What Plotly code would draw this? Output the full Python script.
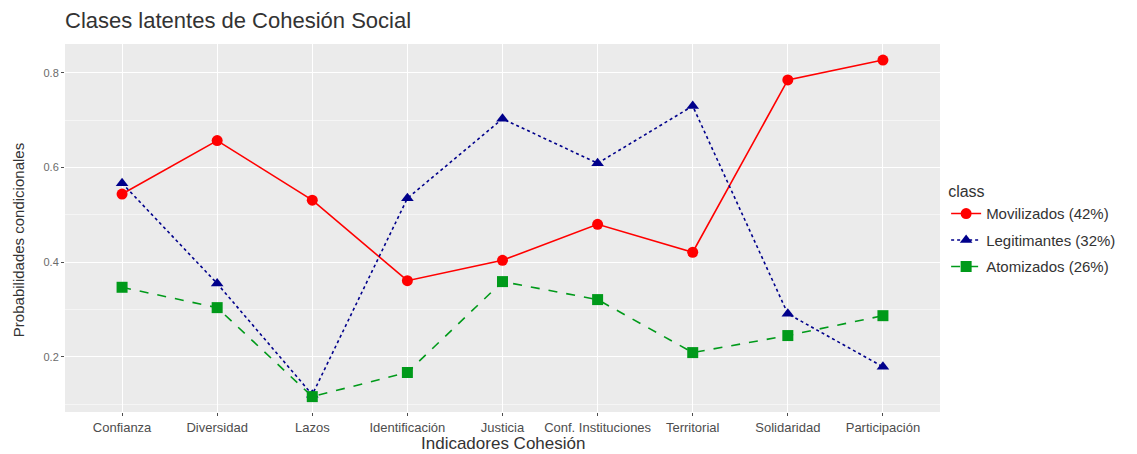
import plotly.graph_objects as go

# indicators on the x axis
indicadores = ["Confianza", "Diversidad", "Lazos", "Identificación", "Justicia",
               "Conf. Instituciones", "Territorial", "Solidaridad", "Participación"]

# conditional probabilities per latent class
movilizados = [0.544, 0.657, 0.531, 0.361, 0.404, 0.480, 0.421, 0.785, 0.827]
legitimantes = [0.567, 0.355, 0.120, 0.535, 0.703, 0.609, 0.730, 0.291, 0.179]
atomizados = [0.347, 0.304, 0.116, 0.167, 0.359, 0.321, 0.209, 0.245, 0.287]

clases = ["Movilizados (42%)", "Legitimantes (32%)", "Atomizados (26%)"]

y_ticks = [0.2, 0.4, 0.6, 0.8]

FONT = "Liberation Sans, Arial, sans-serif"

# page body has an 8px margin, so the figure sits 8px in from the window corner
W, H = 1129, 446
L, R, T, B = 57, 197, 36, 42


def add_class(fig, name, values, color, dash, symbol):
    '''
        Adds one latent class as a line with markers.
    '''
    fig.add_trace(go.Scatter(x=indicadores, y=values, name=name,
                             legendgroup=name,
                             mode='lines+markers',
                             line=dict(color=color, width=1.6, dash=dash),
                             marker=dict(color=color, size=11, symbol=symbol)))
    return fig


fig = go.Figure()
fig = add_class(fig, clases[0], movilizados, '#ff0000', 'solid', 'circle')
fig = add_class(fig, clases[1], legitimantes, '#00008b', 'dot', 'triangle-up')
fig = add_class(fig, clases[2], atomizados, '#009a1a', 'dash', 'square')

plot_w = W - L - R
plot_h = H - T - B

fig.update_layout(
    width=W, height=H,
    margin=dict(l=L, r=R, t=T, b=B),
    paper_bgcolor='white',
    plot_bgcolor='#ebebeb',
    font=dict(family=FONT, color='#4d4d4d', size=12),
    title=dict(text="Clases latentes de Cohesión Social",
               x=L / W, xanchor='left', y=1 - 12 / H, yanchor='middle',
               font=dict(size=22, color='#333333')),
    xaxis=dict(automargin=False,
               showgrid=True, gridcolor='white', gridwidth=1.2,
               ticks='outside', ticklen=3, tickcolor='#4d4d4d',
               range=[-0.6, len(indicadores) - 0.4],
               tickfont=dict(size=13, color='#4d4d4d'),
               zeroline=False),
    yaxis=dict(automargin=False,
               range=[0.0835, 0.861], tickmode='array', tickvals=y_ticks,
               ticktext=[str(v) for v in y_ticks],
               showgrid=True, gridcolor='white', gridwidth=1.2,
               minor=dict(tickmode='array', tickvals=[0.1, 0.3, 0.5, 0.7],
                          showgrid=True, gridcolor='#f5f5f5', gridwidth=0.6),
               ticks='outside', ticklen=3, tickcolor='#4d4d4d',
               tickfont=dict(size=11, color='#6b6b6b'),
               zeroline=False),
    legend=dict(title=dict(text="class", font=dict(size=16, color='#333333')),
                x=1.007, xanchor='left', y=0.64, yanchor='top',
                font=dict(size=15, color='#333333'),
                tracegroupgap=4, itemwidth=30),
    showlegend=True,
)

# axis titles placed by hand
fig.add_annotation(text="Indicadores Cohesión", xref='paper', yref='paper',
                   x=0.5, y=-31 / plot_h, xanchor='center', yanchor='middle',
                   showarrow=False, font=dict(size=17, color='#333333'))
fig.add_annotation(text="Probabilidades condicionales", xref='paper', yref='paper',
                   x=-47 / plot_w, y=0.467, xanchor='center', yanchor='middle',
                   textangle=-90, showarrow=False,
                   font=dict(size=15, color='#333333'))

fig.write_html("out.html")
